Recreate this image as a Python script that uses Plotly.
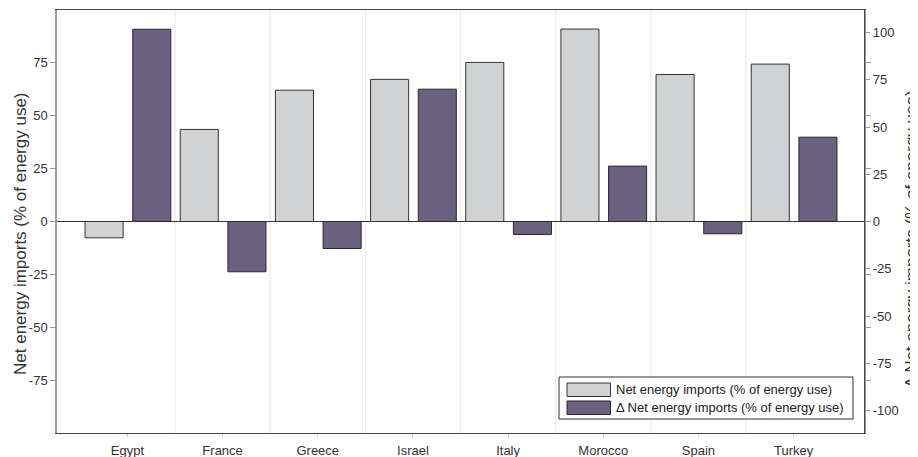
import plotly.graph_objects as go

countries = ["Egypt", "France", "Greece", "Israel", "Italy", "Morocco", "Spain", "Turkey"]
net_imports = [-7.7, 43.4, 61.9, 67.0, 75.0, 90.7, 69.3, 74.2]
delta_imports = [101.7, -26.6, -14.3, 70.0, -6.9, 29.3, -6.5, 44.6]

left_ticks = [-75, -50, -25, 0, 25, 50, 75]
right_ticks = [-100, -75, -50, -25, 0, 25, 50, 75, 100]

name_net = "Net energy imports (% of energy use)"
name_delta = "\u0394 Net energy imports (% of energy use)"

FONT = "Liberation Sans, Arial, sans-serif"
GRAY_FILL, GRAY_LINE = "#d1d2d4", "#333333"
PURP_FILL, PURP_LINE = "#6a617f", "#2a2733"

# the page body has an 8px default margin; the figure is sized to fill the rest
PAGE_OFF = 8
FIG_W, FIG_H = 918 - PAGE_OFF, 457 - PAGE_OFF
ML, MR, MT, MB = 57 - PAGE_OFF, 54, 10 - PAGE_OFF, 24

fig = go.Figure()
fig.add_trace(go.Bar(
    x=countries, y=net_imports, name=name_net, yaxis="y",
    offset=-0.445, width=0.40, showlegend=False,
    marker=dict(color=GRAY_FILL, line=dict(color=GRAY_LINE, width=1)),
))
fig.add_trace(go.Bar(
    x=countries, y=delta_imports, name=name_delta, yaxis="y2",
    offset=0.056, width=0.40, showlegend=False,
    marker=dict(color=PURP_FILL, line=dict(color=PURP_LINE, width=1)),
))

# vertical separators between categories
for i in range(len(countries) - 1):
    fig.add_shape(type="line", xref="x", yref="paper", x0=i + 0.5, x1=i + 0.5,
                  y0=0, y1=1, line=dict(color="#ebebeb", width=1.2), layer="below")

# page-pixel -> paper helpers (plot area 57..864 x 10..433 px on the page)
W, H, L, T = 807.0, 423.0, 57.0, 10.0
def px(x):
    return (x - L) / W
def py(y):
    return 1 - (y - T) / H

# legend box
fig.add_shape(type="rect", xref="paper", yref="paper",
              x0=px(559), x1=px(853), y0=py(419), y1=py(377),
              line=dict(color="#333333", width=1), fillcolor="white")
for (y0, y1, fill, line, label) in [
    (383, 396.5, GRAY_FILL, GRAY_LINE, name_net),
    (401, 414.5, PURP_FILL, PURP_LINE, name_delta),
]:
    fig.add_shape(type="rect", xref="paper", yref="paper",
                  x0=px(567), x1=px(610.5), y0=py(y1), y1=py(y0),
                  line=dict(color=line, width=1), fillcolor=fill)
    fig.add_annotation(xref="paper", yref="paper", x=px(614), y=py((y0 + y1) / 2),
                       text=label, showarrow=False, xanchor="left", yanchor="middle",
                       font=dict(size=13, color="#222222", family=FONT))

# axis titles
fig.add_annotation(xref="paper", yref="paper", x=px(20), y=py(234), text=name_net,
                   textangle=-90, showarrow=False, xanchor="center", yanchor="middle",
                   font=dict(size=17, color="#333333", family=FONT))
fig.add_annotation(xref="paper", yref="paper", x=px(911), y=py(239), text=name_delta,
                   textangle=-90, showarrow=False, xanchor="center", yanchor="middle",
                   font=dict(size=17, color="#333333", family=FONT))

fig.update_layout(
    width=FIG_W, height=FIG_H,
    margin=dict(l=ML, r=MR, t=MT, b=MB, autoexpand=False),
    paper_bgcolor="white", plot_bgcolor="white",
    font=dict(family=FONT, size=12, color="#333333"),
    barmode="overlay",
    showlegend=False,
    xaxis=dict(
        type="category", range=[-0.74, 7.74], automargin=False,
        showgrid=False, showline=True, linecolor="#444444", linewidth=1.2,
        mirror=True, ticks="outside", ticklen=3, tickcolor="#cccccc",
        ticklabelstandoff=2,
        tickfont=dict(size=13, color="#333333"),
    ),
    yaxis=dict(
        range=[-99.7, 99.7], tickvals=left_ticks,
        ticktext=[str(v) for v in left_ticks], automargin=False,
        showgrid=False, zeroline=True, zerolinecolor="#333333", zerolinewidth=1,
        showline=True, linecolor="#9a9a9a", linewidth=1.5, mirror="ticks",
        ticks="outside", ticklen=5, tickcolor="#9a9a9a",
        tickfont=dict(size=13, color="#333333"),
    ),
    yaxis2=dict(
        overlaying="y", side="right",
        range=[-111.9, 111.9], tickvals=right_ticks,
        ticktext=[str(v) for v in right_ticks], automargin=False,
        showgrid=False, zeroline=False,
        showline=True, linecolor="#444444", linewidth=1.2,
        ticks="outside", ticklen=5, tickcolor="#9a9a9a",
        tickfont=dict(size=13, color="#333333"),
    ),
)

fig.write_html("out.html")
